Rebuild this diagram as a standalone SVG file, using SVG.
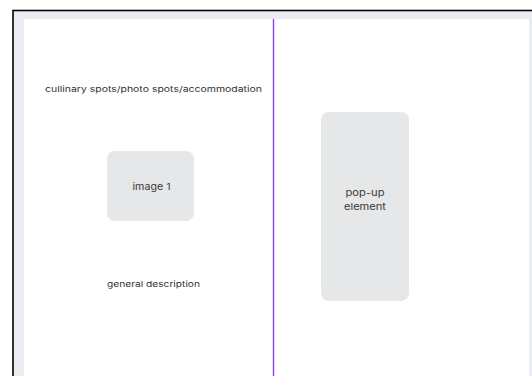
<svg xmlns="http://www.w3.org/2000/svg" width="532" height="376" viewBox="0 0 532 376">
<style>
.box{fill:#e6e7e9}
.t{font-family:"Inter","Liberation Sans",sans-serif;font-size:8px;fill:#333333;text-anchor:middle}
.b{font-size:9.5px;fill:#3a3a3a}
</style>
<rect x="0" y="0" width="532" height="376" fill="#ffffff"/>
<g id="frame">
<rect x="13" y="10.5" width="530" height="380" fill="#ebecf1" stroke="#000000" stroke-width="1.6"/>
<rect x="24" y="19" width="505" height="370" fill="#ffffff"/>
</g>
<g id="connectors">
<line x1="273.5" y1="19" x2="273.5" y2="376" stroke="#8c44f6" stroke-width="1.4"/>
</g>
<g id="header">
<text class="t" x="153.5" y="92" textLength="217" lengthAdjust="spacingAndGlyphs">cullinary spots/photo spots/accommodation</text>
</g>
<g id="image1">
<rect class="box" x="107" y="151" width="87" height="70" rx="8"/>
<text class="t b" x="151.5" y="190" textLength="38" lengthAdjust="spacingAndGlyphs">image 1</text>
</g>
<g id="description">
<text class="t" x="153.5" y="287" textLength="93" lengthAdjust="spacingAndGlyphs">general description</text>
</g>
<g id="popup">
<rect class="box" x="321" y="112" width="88" height="189" rx="8"/>
<text class="t b" x="365" y="196" textLength="39" lengthAdjust="spacingAndGlyphs">pop-up</text>
<text class="t b" x="365" y="210" textLength="42" lengthAdjust="spacingAndGlyphs">element</text>
</g>
</svg>
